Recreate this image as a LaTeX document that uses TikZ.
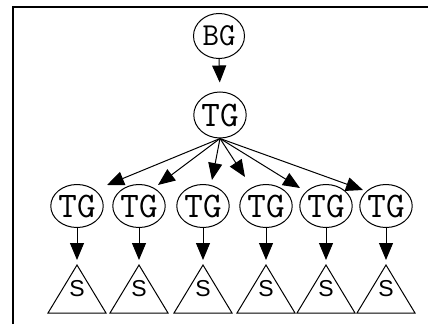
\documentclass[tikz,border=0pt]{standalone}
\usepackage{fontspec}
\setmainfont{Liberation Serif}
\newfontfamily\sansfam{Liberation Sans}
\usetikzlibrary{shapes.geometric,arrows.meta,calc}
\begin{document}
\begin{tikzpicture}[x=1pt,y=-1pt,
  gnode/.style={draw,line width=1pt,ellipse,inner sep=0pt,minimum width=52pt,minimum height=43pt,font=\ttfamily\fontsize{36}{38}\selectfont},
  tri/.style={draw,line width=1pt,line join=miter},
  slabel/.style={inner sep=0pt,font=\sansfam\fontsize{23}{25}\selectfont},
  arr/.style={line width=1pt,-{Triangle[width=14pt,length=17pt]}},
  frameline/.style={line width=1.6pt}]
\useasboundingbox (0,0) rectangle (428,324);
% frame (left and top edges)
\coordinate (fl) at (13,324);
\coordinate (fc) at (13,7);
\coordinate (fr) at (428,7);
\draw[frameline] (fl) -- (fc) -- (fr);
% top nodes
\node[gnode,minimum width=51pt,minimum height=45pt,font=\ttfamily\fontsize{32}{34}\selectfont] (bg) at (219,36) {BG};
\node[gnode,minimum width=49pt,minimum height=46pt] (tg) at (220,115) {TG};
\draw[arr,shorten >=9pt] (bg.south) -- (tg.north);
% bottom row
\foreach \i/\x in {1/77,2/139,3/203,4/266,5/326,6/386}{
  \node[gnode] (c\i) at (\x,206) {TG};
  \coordinate (a\i) at (\x,265);
  \draw[tri] (a\i) -- ++(-29,48) -- ++(58,0) -- cycle;
  \node[slabel] (s\i) at (\x,289) {S};
  \draw[arr,shorten >=5pt] (c\i.south) -- (a\i);
}
% fan of arrows
\foreach \i/\dx/\dy in {1/30/-21,2/19/-21,3/9/-26,4/-21/-29,5/-26/-18,6/-23/-16}{
  \draw[arr] (tg.south) -- ($(c\i)+(\dx,\dy)$);
}
\end{tikzpicture}
\end{document}
